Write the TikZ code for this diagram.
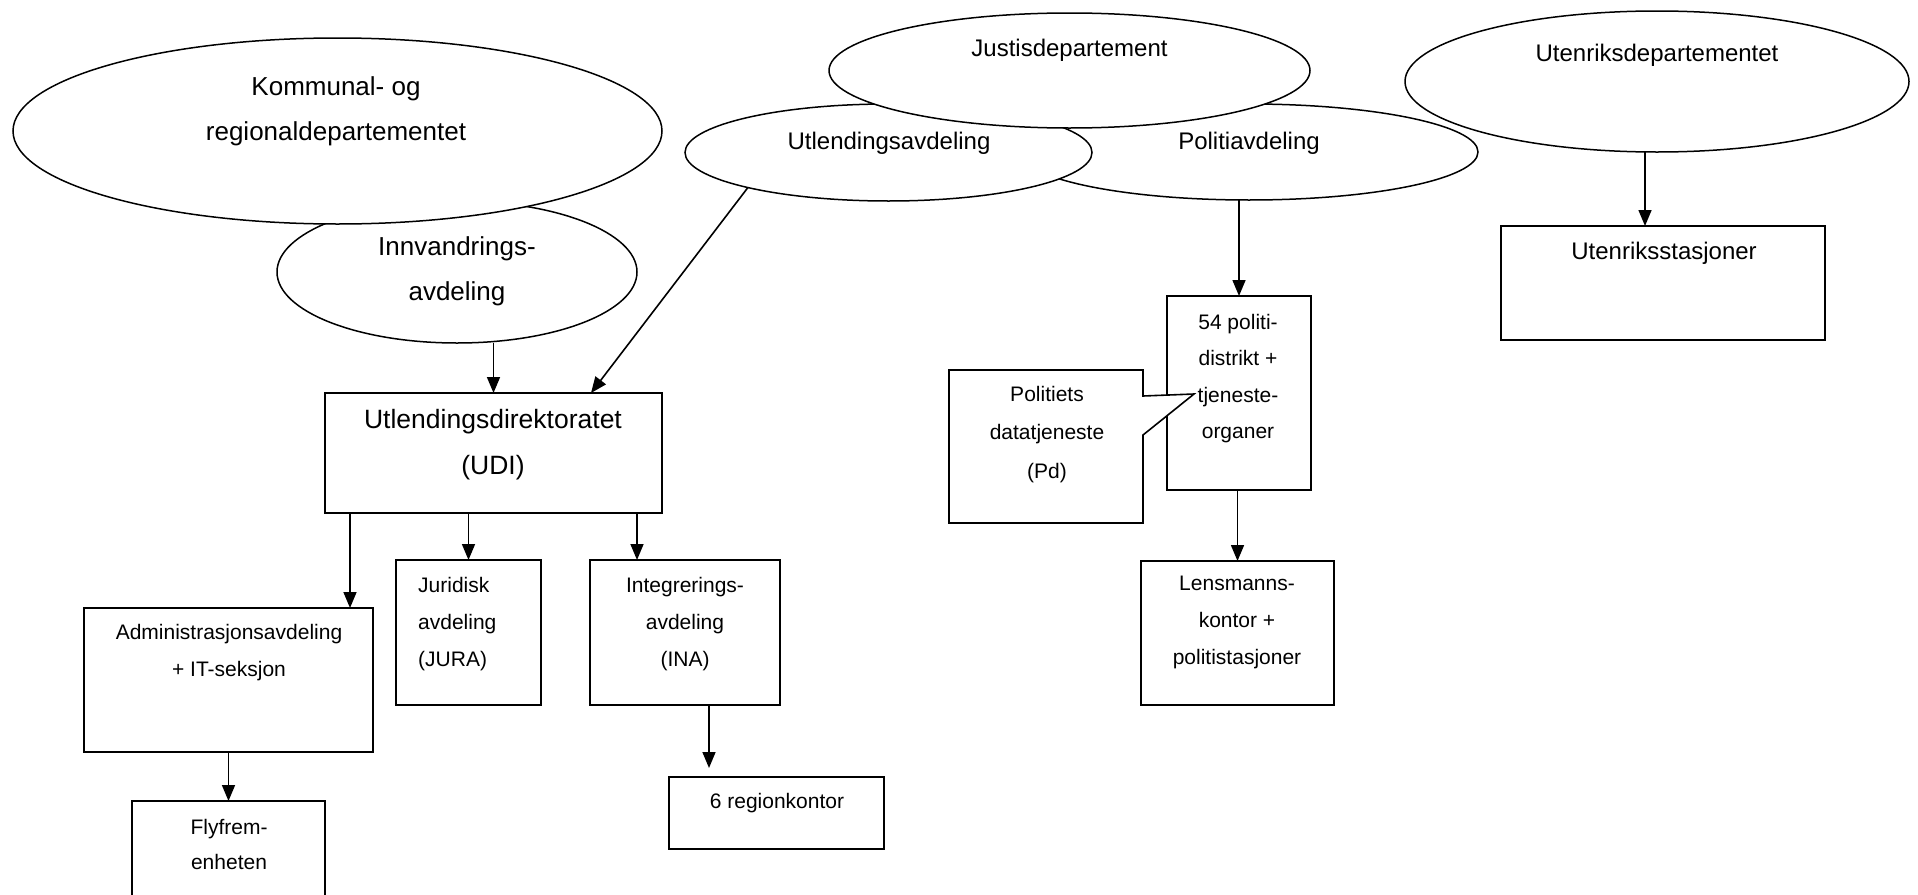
\documentclass[tikz,border=0pt]{standalone}
\usepackage{fontspec}
\setmainfont{Liberation Sans}
\usetikzlibrary{arrows.meta,shapes.geometric}
\begin{document}
\begin{tikzpicture}[x=1pt,y=-1pt,
  box/.style={draw, rectangle, line width=1.6pt, inner sep=0pt, outer sep=0pt, fill=white},
  ell/.style={draw, ellipse, line width=1.5pt, inner sep=0pt, outer sep=0pt, fill=white},
  arr/.style={line width=1.6pt, -{Triangle[length=16pt,width=13pt]}},
  tL/.style={inner sep=0pt, anchor=north, align=center, font=\fontsize{26}{45}\selectfont},
  tM/.style={inner sep=0pt, anchor=north, align=center, font=\fontsize{24}{40}\selectfont},
  tS/.style={inner sep=0pt, anchor=north, align=center, font=\fontsize{21}{37}\selectfont},
]
\useasboundingbox (0,0) rectangle (1918,894);
\clip (0,0) rectangle (1918,894);
\fill[white] (0,0) rectangle (1918,894);

% ellipses (drawing order gives the overlaps)
\node[ell, minimum width=360pt, minimum height=142pt] (innv) at (457,272) {};
\node[ell, minimum width=649pt, minimum height=186pt] (komm) at (337.5,131) {};
\node[ell, minimum width=458pt, minimum height=96pt] (politi) at (1249,152) {};
\node[ell, minimum width=407pt, minimum height=97pt] (utl) at (888.5,152.5) {};
\node[ell, minimum width=481pt, minimum height=115pt] (justis) at (1069.5,70.5) {};
\node[ell, minimum width=504pt, minimum height=141pt] (utdep) at (1657,81.5) {};

% boxes
\node[box, minimum width=324pt, minimum height=114pt] (utst) at (1663,283) {};
\node[box, minimum width=144pt, minimum height=194pt] (b54) at (1239,393) {};
\node[box, minimum width=193pt, minimum height=144pt] (lens) at (1237.5,633) {};
\node[box, minimum width=337pt, minimum height=120pt] (udi) at (493.5,453) {};
\node[box, minimum width=289pt, minimum height=144pt] (admin) at (228.5,680) {};
\node[box, minimum width=145pt, minimum height=145pt] (jur) at (468.5,632.5) {};
\node[box, minimum width=190pt, minimum height=145pt] (integ) at (685,632.5) {};
\node[box, minimum width=215pt, minimum height=72pt] (reg) at (776.5,813) {};
\node[box, minimum width=193pt, minimum height=118pt] (fly) at (228.5,860) {};

% callout
\draw[line width=1.6pt, fill=white] (949,370) -- (1143,370) -- (1143,396) -- (1194,394)
  -- (1143,435) -- (1143,523) -- (949,523) -- cycle;

% texts
\node[tL] (t-komm) at (336,76) {Kommunal- og\\regionaldepartementet};
\node[tL] (t-innv) at (457,236) {Innvandrings-\\avdeling};
\node[tM] (t-justis) at (1069.5,39) {Justisdepartement};
\node[tM] (t-utl) at (889,132) {Utlendingsavdeling};
\node[tM] (t-politi) at (1249,132) {Politiavdeling};
\node[tM] (t-utdep) at (1657,44) {Utenriksdepartementet};
\node[tM] (t-utst) at (1664,242) {Utenriksstasjoner};
\node[tL, font=\fontsize{26.5}{46}\selectfont] (t-udi) at (493,409) {Utlendingsdirektoratet\\(UDI)};
\node[tS, font=\fontsize{21}{36.5}\selectfont] (t-b54) at (1238,314) {54 politi-\\distrikt +\\tjeneste-\\organer};
\node[tS, font=\fontsize{21}{38.5}\selectfont] (t-pd) at (1047,386) {Politiets\\datatjeneste\\(Pd)};
\node[tS] (t-admin) at (229,624) {Administrasjonsavdeling\\+ IT-seksjon};
\node[tS, anchor=north west, align=left] (t-jur) at (418,577) {Juridisk\\avdeling\\(JURA)};
\node[tS] (t-integ) at (685,577) {Integrerings-\\avdeling\\(INA)};
\node[tS] (t-reg) at (777,793) {6 regionkontor};
\node[tS, font=\fontsize{21}{35}\selectfont] (t-fly) at (229,819) {Flyfrem-\\enheten};
\node[tS] (t-lens) at (1237,576) {Lensmanns-\\kontor +\\politistasjoner};

% helper x positions
\coordinate (xA) at (350,0);
\coordinate (xI) at (637,0);
\coordinate (xR) at (709,0);
\coordinate (xU) at (1645,0);
\coordinate (xUDI) at (591,0);

% connectors
\draw[arr] (udi.north |- innv.south) -- (udi.north);
\draw[arr] (utl.194) -- (udi.north -| xUDI);
\draw[arr] (udi.south -| xA) -- (admin.north -| xA);
\draw[arr] (udi.south -| jur.north) -- (jur.north);
\draw[arr] (udi.south -| xI) -- (integ.north -| xI);
\draw[arr, shorten >=9pt] (integ.south -| xR) -- (reg.north -| xR);
\draw[arr] (admin.south) -- (fly.north);
\draw[arr] (b54.north |- politi.south) -- (b54.north);
\draw[arr] (lens.north |- b54.south) -- (lens.north);
\draw[arr] (utdep.south -| xU) -- (utst.north -| xU);
\end{tikzpicture}
\end{document}
